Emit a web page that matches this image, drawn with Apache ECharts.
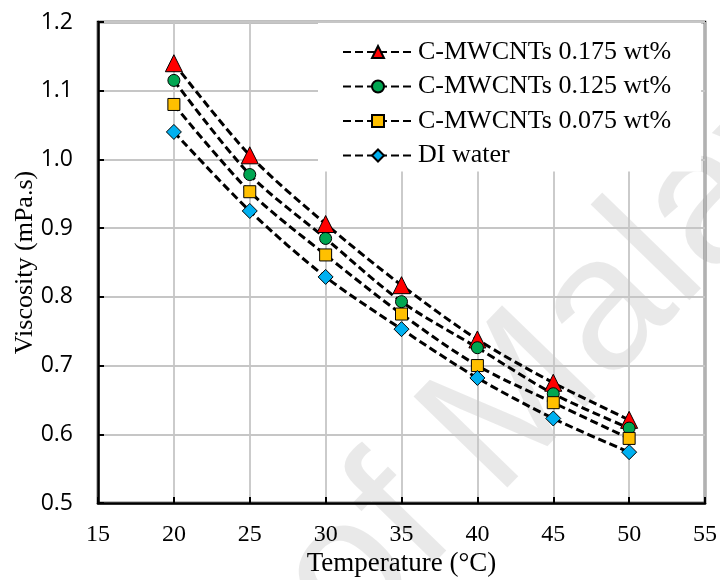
<!DOCTYPE html>
<html>
<head>
<meta charset="utf-8">
<script src="https://cdn.jsdelivr.net/npm/echarts@6/dist/echarts.min.js"></script>
<style>
  html, body { margin: 0; padding: 0; background: #fff; }
  #chart { width: 720px; height: 580px; }
</style>
</head>
<body>
<div id="chart"></div>
<script>
// Temperatures (°C) at which viscosity was measured
const temperatures = [20, 25, 30, 35, 40, 45, 50];

// Viscosity (mPa.s) for each fluid
const cmwcnt0175 = [1.140, 1.006, 0.906, 0.817, 0.738, 0.675, 0.621];
const cmwcnt0125 = [1.115, 0.978, 0.885, 0.793, 0.726, 0.659, 0.609];
const cmwcnt0075 = [1.080, 0.953, 0.861, 0.775, 0.700, 0.646, 0.594];
const diWater    = [1.040, 0.925, 0.829, 0.753, 0.682, 0.623, 0.574];

const seriesNames = ['C-MWCNTs 0.175 wt%', 'C-MWCNTs 0.125 wt%', 'C-MWCNTs 0.075 wt%', 'DI water'];

const xTicks = { min: 15, max: 55, interval: 5 };
const yTicks = { min: 0.5, max: 1.2, interval: 0.1 };

const serif = '"Liberation Serif", "Times New Roman", serif';
const sans = '"Open Sans", Lato, sans-serif';

function pairs(values) {
  return temperatures.map((t, i) => [t, values[i]]);
}

function makeSeries(name, values, symbol, size, color) {
  return {
    name: name,
    type: 'line',
    data: pairs(values),
    smooth: 0.3,
    symbol: symbol,
    symbolSize: size,
    itemStyle: { color: color, borderColor: '#000', borderWidth: 1 },
    lineStyle: { color: '#000', width: 3, type: [8, 4] },
    z: 3
  };
}

const chart = echarts.init(document.getElementById('chart'), null, { renderer: 'canvas' });

chart.setOption({
  animation: false,
  backgroundColor: '#fff',
  graphic: [{
    type: 'text',
    x: 380,
    y: 680,
    rotation: 0.8,
    z: 0,
    silent: true,
    style: {
      text: 'of Malaya',
      font: '190px "Liberation Sans", Arial, sans-serif',
      fill: 'rgba(0,0,0,0.085)',
      textAlign: 'left',
      textVerticalAlign: 'bottom'
    }
  }],
  grid: {
    left: 98, right: 15, top: 22, bottom: 77,
    outerBoundsMode: 'none',
    containLabel: false,
    show: true,
    borderColor: '#000',
    borderWidth: 2.5,
    backgroundColor: 'transparent'
  },
  legend: {
    data: seriesNames,
    orient: 'vertical',
    left: 318,
    top: 23,
    padding: [16, 30, 3, 24],
    itemGap: 8.5,
    itemWidth: 70,
    itemHeight: 15,
    backgroundColor: '#fff',
    textStyle: { fontFamily: serif, fontSize: 26, color: '#000' },
    z: 2
  },
  xAxis: {
    type: 'value',
    min: xTicks.min, max: xTicks.max, interval: xTicks.interval,
    name: 'Temperature (°C)',
    nameLocation: 'middle',
    nameGap: 47,
    nameMoveOverlap: false,
    nameTextStyle: { fontFamily: serif, fontSize: 27, color: '#000' },
    axisLine: { lineStyle: { color: '#000', width: 2.5 } },
    axisTick: { inside: true, length: 6, lineStyle: { color: '#000', width: 2 } },
    axisLabel: { fontFamily: serif, fontSize: 24, color: '#000', margin: 20 },
    splitLine: { lineStyle: { color: '#c6c6c6', width: 1.8 } }
  },
  yAxis: {
    type: 'value',
    min: yTicks.min, max: yTicks.max, interval: yTicks.interval,
    name: 'Viscosity (mPa.s)',
    nameLocation: 'middle',
    nameGap: 60,
    nameMoveOverlap: false,
    nameTextStyle: { fontFamily: serif, fontSize: 26, color: '#000' },
    axisLine: { show: true, lineStyle: { color: '#000', width: 2.5 } },
    axisTick: { show: true, inside: true, length: 6, lineStyle: { color: '#000', width: 2 } },
    axisLabel: {
      fontFamily: sans, fontSize: 23, color: '#000', margin: 25,
      formatter: v => v.toFixed(1)
    },
    splitLine: { lineStyle: { color: '#c6c6c6', width: 1.8 } }
  },
  series: [
    makeSeries(seriesNames[0], cmwcnt0175, 'triangle', 17, '#ff0000'),
    makeSeries(seriesNames[1], cmwcnt0125, 'circle', 12, '#00a651'),
    makeSeries(seriesNames[2], cmwcnt0075, 'rect', 12, '#ffc000'),
    makeSeries(seriesNames[3], diWater, 'diamond', 15, '#00b0f0')
  ]
});
</script>
</body>
</html>
